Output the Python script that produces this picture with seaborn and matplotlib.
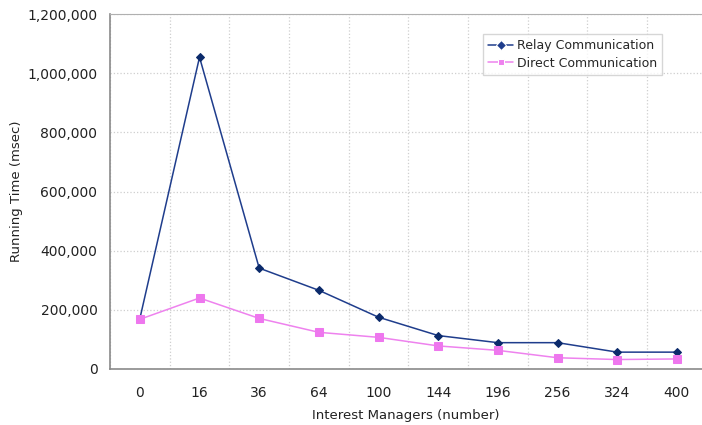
import matplotlib
matplotlib.use("Agg")
import matplotlib.pyplot as plt
import matplotlib.ticker as mticker
import numpy as np
import pandas as pd
import seaborn as sns

# data
managers = ["0", "16", "36", "64", "100", "144", "196", "256", "324", "400"]
relay_ms = [170000, 1054000, 341000, 266000, 175000, 113000, 89000, 89000, 57000, 57000]
direct_ms = [168000, 240000, 171000, 124000, 107000, 78000, 63000, 38000, 32000, 34000]
series_names = ["Relay Communication", "Direct Communication"]

RELAY_COLOR = "#1f3d8c"
RELAY_MARK = "#0b2a6b"
DIRECT_COLOR = "#ee82ee"
DIRECT_MARK = "#ee77ee"

df = pd.DataFrame({
    "managers": managers * 2,
    "time": relay_ms + direct_ms,
    "series": [series_names[0]] * len(managers) + [series_names[1]] * len(managers),
})

sns.set_style("white")
plt.rcParams["font.family"] = ["DejaVu Sans"]

fig = plt.figure(figsize=(7.02, 4.25), dpi=100)
ax = fig.add_axes([110 / 702, 1 - 369 / 425, 1 - 110 / 702, (369 - 14) / 425])

sns.lineplot(
    data=df, x="managers", y="time", hue="series", style="series",
    palette=[RELAY_COLOR, DIRECT_COLOR], markers=["D", "s"], dashes=False,
    markersize=5, linewidth=1.1, ax=ax, sort=False,
)
for line, mc in zip(ax.lines[:2], [RELAY_MARK, DIRECT_MARK]):
    line.set_markerfacecolor(mc)
    line.set_markeredgecolor(mc)
ax.lines[0].set_markersize(4.5)
ax.lines[1].set_markersize(6)

ax.set_xlim(-0.5, 9.42)
ax.set_ylim(0, 1200000)
ax.yaxis.set_major_locator(mticker.MultipleLocator(200000))
ax.yaxis.set_major_formatter(mticker.FuncFormatter(lambda v, p: f"{int(v):,}"))

# vertical grid at category boundaries
ax.set_xticks(np.arange(-0.5, 9.5, 1.0), minor=True)
ax.grid(True, which="minor", axis="x", color="#cfcfcf", linestyle=":", linewidth=0.9)
ax.grid(True, which="major", axis="y", color="#cfcfcf", linestyle=":", linewidth=0.9)
ax.grid(False, which="major", axis="x")
ax.tick_params(axis="x", which="major", length=0, pad=12, labelsize=10, colors="#222222")
ax.tick_params(axis="x", which="minor", length=4, color="#999999", direction="out")
ax.tick_params(axis="y", which="major", length=4, color="#999999", labelsize=10,
               labelcolor="#222222", pad=5)

for side in ["left", "bottom", "top"]:
    ax.spines[side].set_color("#8a8a8a")
    ax.spines[side].set_linewidth(1.2)
ax.spines["top"].set_color("#b0b0b0")
ax.spines["top"].set_linewidth(0.8)
ax.spines["right"].set_visible(False)

ax.set_xlabel("Interest Managers (number)", fontsize=9.5, color="#222222", labelpad=7)
ax.set_ylabel("Running Time (msec)", fontsize=9.5, color="#222222", labelpad=3)

leg = ax.legend(loc="upper left", bbox_to_anchor=(0.62, 0.96), fontsize=9,
                frameon=True, fancybox=False, handlelength=2.0, borderpad=0.4,
                labelspacing=0.35, handletextpad=0.3, title=None)
leg.get_frame().set_edgecolor("#cccccc")
leg.get_frame().set_linewidth(1.0)

fig.savefig("out.png", dpi=100)
